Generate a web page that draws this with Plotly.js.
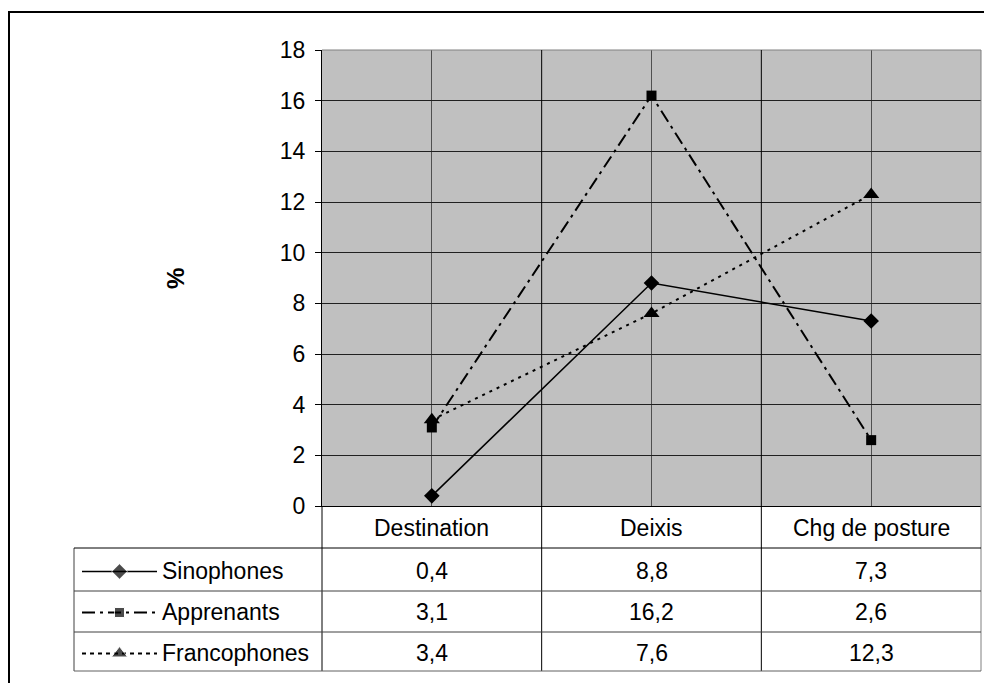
<!DOCTYPE html>
<html>
<head>
<meta charset="utf-8">
<script src="https://cdn.plot.ly/plotly-3.0.1.min.js"></script>
<style>
  html, body { margin: 0; padding: 0; background: #ffffff; }
  #chart { width: 984px; height: 683px; }
</style>
</head>
<body>
<div id="chart"></div>
<script>
// ---- data ----
const categories = ['Destination', 'Deixis', 'Chg de posture'];
const seriesNames = ['Sinophones', 'Apprenants', 'Francophones'];
const sinophones = [0.4, 8.8, 7.3];
const apprenants = [3.1, 16.2, 2.6];
const francophones = [3.4, 7.6, 12.3];
const yTickVals = [0, 2, 4, 6, 8, 10, 12, 14, 16, 18];
const yTitle = '%';

// ---- helpers (layout only) ----
const W = 984, H = 683;
const px = x => x / W;
const py = y => 1 - y / H;
const fontFam = '"Liberation Sans", Arial, sans-serif';
const FS = 23;

const seriesValues = [sinophones, apprenants, francophones];
const styles = [
  { dash: 'solid', legendDash: 'solid', width: 1.5, symbol: 'diamond', size: 12 },
  { dash: '13px,5px,3px,5px', legendDash: '13px,5px,3px,5px', width: 2, symbol: 'square', size: 10 },
  { dash: '3px,5px', legendDash: '4px,4px', width: 2, symbol: 'triangle-up', size: 14 }
];

const traces = [];
seriesValues.forEach((vals, i) => {
  traces.push({
    type: 'scatter', mode: 'lines+markers',
    x: categories, y: vals, name: seriesNames[i],
    line: { color: '#000', width: styles[i].width, dash: styles[i].dash },
    marker: { color: '#000', symbol: styles[i].symbol, size: styles[i].size },
    xaxis: 'x', yaxis: 'y', hoverinfo: 'skip'
  });
});
// legend samples in the data table
seriesValues.forEach((vals, i) => {
  traces.push({
    type: 'scatter', mode: 'lines+markers',
    x: [0, 0.5, 1], y: [i, i, i],
    line: { color: '#000', width: styles[i].width, dash: styles[i].legendDash },
    marker: { color: '#000', symbol: styles[i].symbol, size: [0, styles[i].size, 0] },
    xaxis: 'x2', yaxis: 'y2', hoverinfo: 'skip'
  });
});

const fmt = v => v.toFixed(1).replace('.', ',');

const annotations = [];
categories.forEach(c => {
  annotations.push({
    xref: 'x', yref: 'paper', x: c, y: py(528), text: c, showarrow: false,
    xanchor: 'center', yanchor: 'middle', font: { family: fontFam, size: FS, color: '#000' }
  });
});
seriesValues.forEach((vals, i) => {
  annotations.push({
    xref: 'paper', yref: 'y2', x: px(160), y: i, text: seriesNames[i], showarrow: false,
    xanchor: 'left', yanchor: 'middle', font: { family: fontFam, size: FS, color: '#000' }
  });
  vals.forEach((v, j) => {
    annotations.push({
      xref: 'x', yref: 'y2', x: categories[j], y: i, text: fmt(v), showarrow: false,
      xanchor: 'center', yanchor: 'middle', font: { family: fontFam, size: FS, color: '#000' }
    });
  });
});
annotations.push({
  xref: 'paper', yref: 'paper', x: px(175), y: py(279), text: '<b>' + yTitle + '</b>',
  showarrow: false, textangle: -90, xanchor: 'center', yanchor: 'middle',
  font: { family: fontFam, size: 24, color: '#000' }
});

const ln = (x0, y0, x1, y1, color, width, xref) => ({
  type: 'line', xref: xref || 'paper', yref: 'paper',
  x0: x0, y0: y0, x1: x1, y1: y1, layer: 'above',
  line: { color: color, width: width }
});

const shapes = [
  // grey plot area (main subplot only)
  { type: 'rect', xref: 'x domain', yref: 'y domain', x0: 0, y0: 0, x1: 1, y1: 1,
    fillcolor: '#c0c0c0', line: { width: 0 }, layer: 'below' },
  // outer chart border
  { type: 'rect', xref: 'paper', yref: 'paper', x0: px(9), y0: -0.05, x1: 1.05, y1: py(12),
    line: { color: '#000', width: 2 }, layer: 'above' },
  // plot area top and right
  ln(px(322), py(50), px(981), py(50), '#808080', 1),
  ln(px(981), py(50), px(981), py(671), '#808080', 1),
  // category boundaries through plot and table
  ln(0.5, py(50), 0.5, py(671), '#000', 1, 'x'),
  ln(1.5, py(50), 1.5, py(671), '#000', 1, 'x'),
  // left line continuing down into table
  ln(px(322), py(506), px(322), py(671), '#000', 1),
  // table left border
  ln(px(74), py(548), px(74), py(671), '#404040', 1),
  // table horizontal rules
  ln(px(74), py(548), px(981), py(548), '#000', 1),
  ln(px(74), py(591), px(981), py(591), '#404040', 1),
  ln(px(74), py(632), px(981), py(632), '#404040', 1),
  ln(px(74), py(671), px(981), py(671), '#606060', 1)
];

const layout = {
  width: W, height: H,
  margin: { l: 0, r: 0, t: 0, b: 0 },
  paper_bgcolor: '#ffffff',
  plot_bgcolor: 'rgba(0,0,0,0)',
  showlegend: false,
  font: { family: fontFam, size: FS, color: '#000' },
  xaxis: {
    domain: [px(322), px(981)], type: 'category', range: [-0.5, 2.5],
    showticklabels: false, ticks: '', showgrid: true, gridcolor: '#505050', gridwidth: 1,
    showline: true, linecolor: '#000', linewidth: 1, zeroline: false, fixedrange: true
  },
  yaxis: {
    domain: [py(506), py(50)], range: [0, 18], tickmode: 'array', tickvals: yTickVals,
    ticks: 'outside', ticklen: 6, tickcolor: '#000', tickwidth: 1,
    tickfont: { family: fontFam, size: FS, color: '#000' },
    ticklabelstandoff: 5,
    showgrid: true, gridcolor: '#202020', gridwidth: 1,
    showline: true, linecolor: '#000', linewidth: 1, zeroline: false, fixedrange: true
  },
  xaxis2: {
    domain: [px(82), px(157)], range: [0, 1], anchor: 'y2',
    visible: false, fixedrange: true
  },
  yaxis2: {
    domain: [py(671), py(548)], range: [2.427, -0.573], anchor: 'x2',
    visible: false, fixedrange: true
  },
  annotations: annotations,
  shapes: shapes
};

Plotly.newPlot('chart', traces, layout, { staticPlot: true, displayModeBar: false });
</script>
</body>
</html>
